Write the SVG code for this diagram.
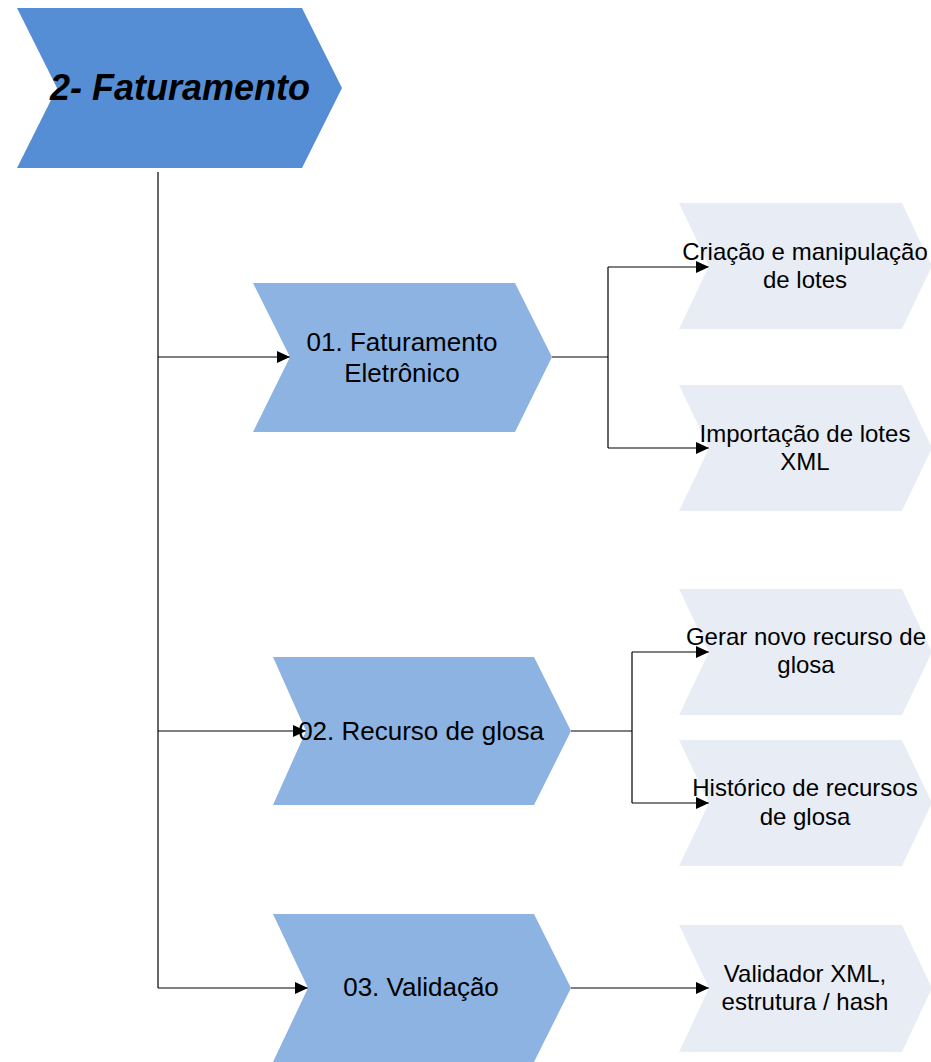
<svg xmlns="http://www.w3.org/2000/svg" width="931" height="1062" viewBox="0 0 931 1062">
<defs>
<style>
.top{fill:#558ED5}
.mid{fill:#8DB3E2}
.light{fill:#E8EDF5}
.t{font-family:"Liberation Sans",Arial,sans-serif;fill:#000;text-anchor:middle}
.tt{font-size:36px;font-weight:bold;font-style:italic}
.tm{font-size:26px}
.tl{font-size:24px}
.c{fill:none;stroke:#000;stroke-width:1.2}
</style>
<marker id="ah" markerWidth="14" markerHeight="12" refX="13" refY="6" orient="auto" markerUnits="userSpaceOnUse">
<path d="M0,0 L13,6 L0,12 Z" fill="#000"/>
</marker>
</defs>
<rect width="931" height="1062" fill="#fff"/>
<g id="connectors">
<path class="c" d="M158,172 V988"/>
<path class="c" d="M158,357 H290" marker-end="url(#ah)"/>
<path class="c" d="M158,731 H306" marker-end="url(#ah)"/>
<path class="c" d="M158,988 H308" marker-end="url(#ah)"/>
<path class="c" d="M552,357 H608"/>
<path class="c" d="M608,267 V448"/>
<path class="c" d="M608,267 H709" marker-end="url(#ah)"/>
<path class="c" d="M608,448 H709" marker-end="url(#ah)"/>
<path class="c" d="M571,731 H632"/>
<path class="c" d="M632,652 V803"/>
<path class="c" d="M632,652 H709" marker-end="url(#ah)"/>
<path class="c" d="M632,803 H709" marker-end="url(#ah)"/>
<path class="c" d="M571,988 H709" marker-end="url(#ah)"/>
</g>
<g id="node-faturamento">
<polygon class="top" points="17,8 302,8 342,88 302,168 17,168 57,88"/>
<text class="t tt" x="180" y="100">2- Faturamento</text>
</g>
<g id="node-01">
<polygon class="mid" points="253,283 515,283 552,357 515,432 253,432 290,357"/>
<text class="t tm" x="402" y="351">01. Faturamento</text>
<text class="t tm" x="402" y="382">Eletrônico</text>
</g>
<g id="node-02">
<polygon class="mid" points="273,657 534,657 571,731 534,805 273,805 306,731"/>
<text class="t tm" x="421" y="740">02. Recurso de glosa</text>
</g>
<g id="node-03">
<polygon class="mid" points="273,914 534,914 571,988 534,1062 273,1062 308,988"/>
<text class="t tm" x="421" y="996">03. Validação</text>
</g>
<g id="node-criacao">
<polygon class="light" points="679,203 902,203 932,266 902,329 679,329 709,266"/>
<text class="t tl" x="805" y="260">Criação e manipulação</text>
<text class="t tl" x="805" y="288">de lotes</text>
</g>
<g id="node-importacao">
<polygon class="light" points="679,385 902,385 932,448 902,511 679,511 709,448"/>
<text class="t tl" x="805" y="442">Importação de lotes</text>
<text class="t tl" x="805" y="470">XML</text>
</g>
<g id="node-gerar">
<polygon class="light" points="679,589 902,589 932,652 902,715 679,715 709,652"/>
<text class="t tl" x="806" y="645">Gerar novo recurso de</text>
<text class="t tl" x="806" y="673">glosa</text>
</g>
<g id="node-historico">
<polygon class="light" points="679,740 902,740 932,803 902,866 679,866 709,803"/>
<text class="t tl" x="805" y="796">Histórico de recursos</text>
<text class="t tl" x="805" y="825">de glosa</text>
</g>
<g id="node-validador">
<polygon class="light" points="679,925 902,925 932,988 902,1052 679,1052 709,988"/>
<text class="t tl" x="805" y="982">Validador XML,</text>
<text class="t tl" x="805" y="1010">estrutura / hash</text>
</g>
</svg>
